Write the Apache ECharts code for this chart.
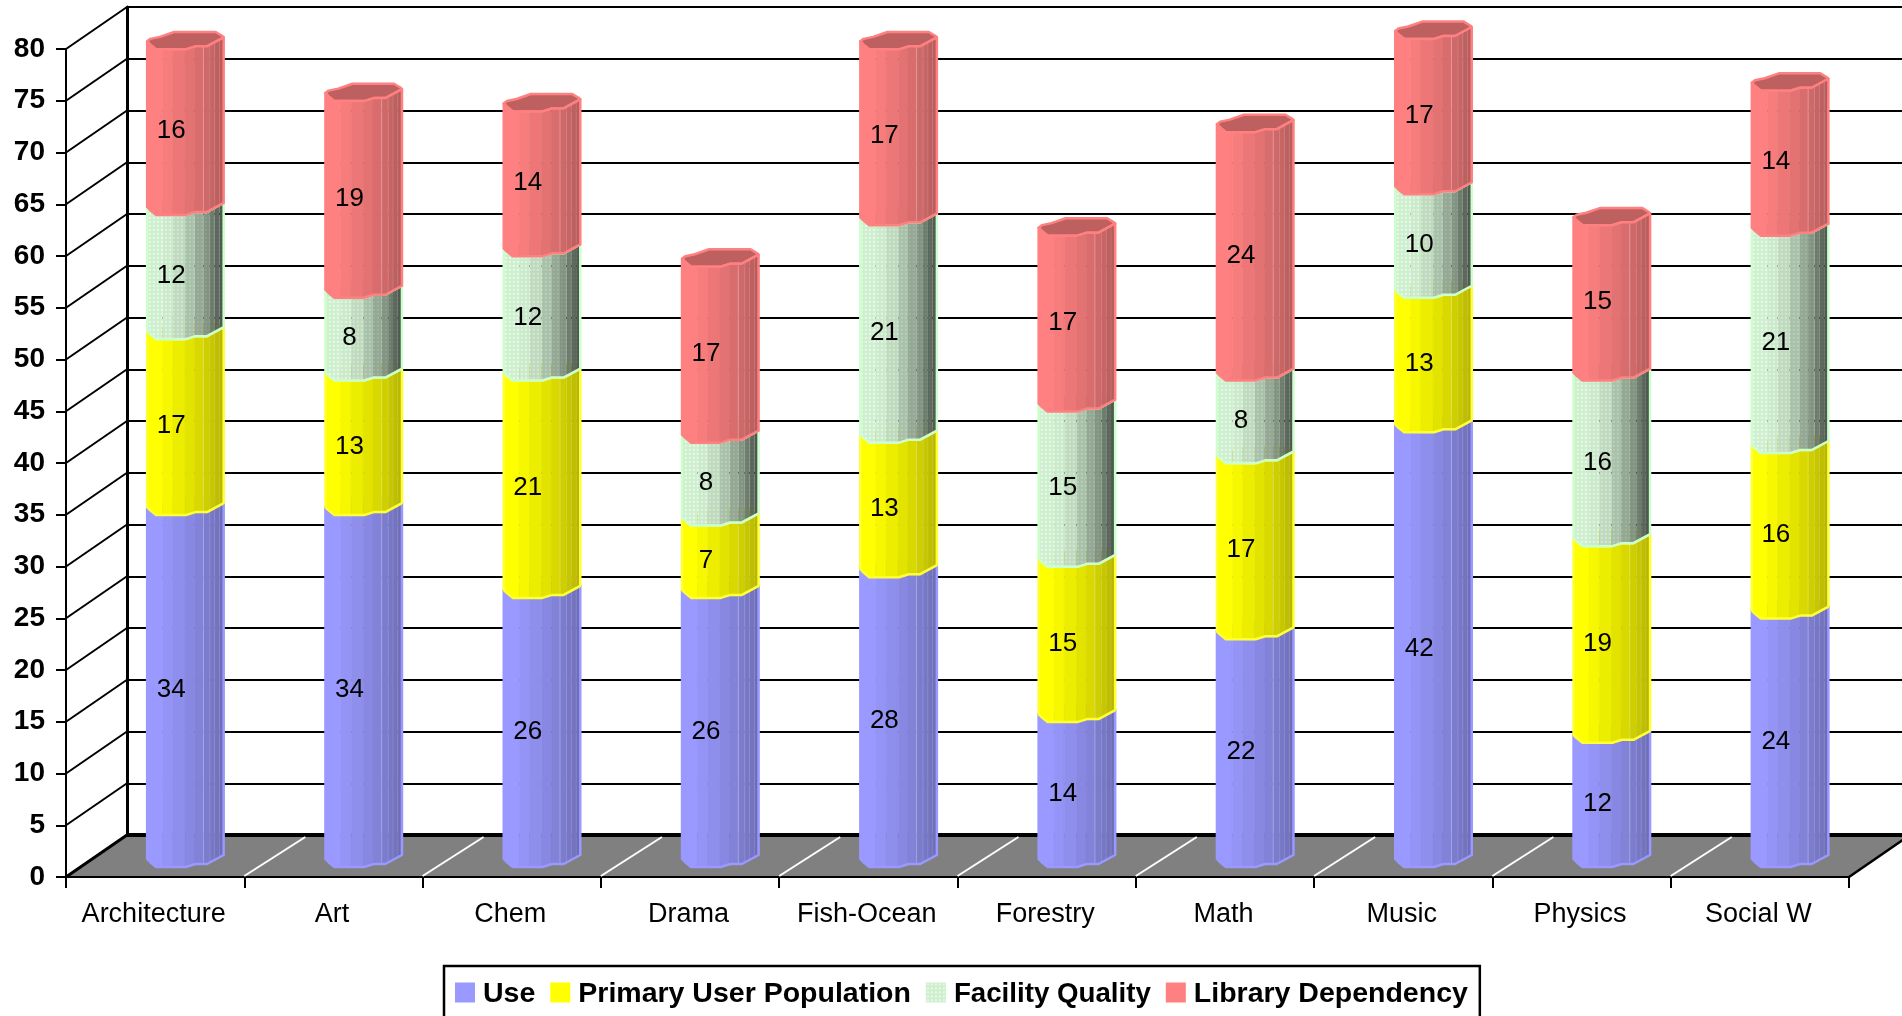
<!DOCTYPE html>
<html>
<head>
<meta charset="utf-8">
<style>html,body{margin:0;padding:0;background:#fff;overflow:hidden}#c{width:1902px;height:1016px}</style>
<script src="https://cdn.jsdelivr.net/npm/echarts@6/dist/echarts.min.js"></script>
</head>
<body>
<div id="c"></div>
<script>
const categories = ['Architecture','Art','Chem','Drama','Fish-Ocean','Forestry','Math','Music','Physics','Social W'];
const useValues = [34,34,26,26,28,14,22,42,12,24];
const primaryValues = [17,13,21,7,13,15,17,13,19,16];
const facilityValues = [12,8,12,8,21,15,8,10,16,21];
const libraryValues = [16,19,14,17,17,17,24,17,15,14];
const seriesNames = ['Use','Primary User Population','Facility Quality','Library Dependency'];
const yTicks = [0,5,10,15,20,25,30,35,40,45,50,55,60,65,70,75,80];
const yMax = 80;

const FONT = '"Liberation Sans", Arial, sans-serif';
const DEPTH_X = 61, DEPTH_Y = -42;
const BAR_SCALE = 0.965, BAR_W = 79.3, BAR_SHIFT = -8, BAR_LIFT = -10;
const FACET_X = [0,16,26.7,39.3,49.3,58.3,65,70,75,79.3];
const FRONT = [[0,-8],[3,-5],[9.3,0],[40,0],[50,-3],[62,-3],[79.3,-12]];
const BACK = [[79.3,-12],[78,-13.3],[71,-17.4],[28,-17.4],[13.3,-12.5],[3.3,-10.5],[0,-8]];
const SOLID_SHADE = [1,.97,.93,.89,.85,.81,.78,.75,.72];
const GRID_SHADE = [.96,.94,.88,.78,.68,.6,.5,.42,.36];
const COLORS = [[153,153,255],[255,255,0],[204,255,204],[255,128,128]];
const STROKES = ['#9999FF','#FFFF33','#CCFFCC','#FF8080'];

function frontY(x){
  for(let i=1;i<FRONT.length;i++){
    if(x<=FRONT[i][0]){
      const a=FRONT[i-1],b=FRONT[i];
      return a[1]+(b[1]-a[1])*(x-a[0])/(b[0]-a[0]);
    }
  }
  return FRONT[FRONT.length-1][1];
}
function rgb(c,m){return 'rgb('+c.map(v=>Math.round(v*m)).join(',')+')';}
function gridPattern(m){
  const s=4,cv=document.createElement('canvas');cv.width=s;cv.height=s;
  const g=cv.getContext('2d');
  g.fillStyle=rgb(COLORS[2],m);g.fillRect(0,0,s,s);
  g.fillStyle=rgb([250,250,250],m);g.fillRect(1,1,2,2);
  g.fillStyle=rgb([228,245,228],m);g.fillRect(1,0,2,1);g.fillRect(0,1,1,2);
  return {image:cv,repeat:'repeat'};
}
const gridFills = GRID_SHADE.map(gridPattern);

function curve(x0,x1,yBase){
  const xs=[x0];
  FRONT.forEach(p=>{if(p[0]>x0&&p[0]<x1)xs.push(p[0]);});
  xs.push(x1);
  return xs.map(x=>[x,yBase+frontY(x)]);
}
function renderSegment(idx){
  return function(params,api){
    const cat=api.value(0), from=Math.min(api.value(1),yMax), to=Math.min(api.value(2),yMax);
    const bottom=api.coord([cat,from]), top=api.coord([cat,to]);
    const xL=bottom[0]+BAR_SHIFT;
    const yb=bottom[1]+BAR_LIFT, yt=top[1]+BAR_LIFT;
    const children=[];
    const abs=pts=>pts.map(p=>[xL+p[0]*BAR_SCALE,p[1]]);
    // top cap
    const cap=abs(curve(0,BAR_W,yt).concat(BACK.map(p=>[p[0],yt+p[1]])));
    children.push({type:'polygon',shape:{points:cap},style:{fill:rgb(COLORS[idx],idx===2?.6:.75),stroke:STROKES[idx],lineWidth:2.5,lineJoin:'round'}});
    // facets
    for(let k=0;k<FACET_X.length-1;k++){
      const x0=FACET_X[k],x1=FACET_X[k+1];
      const upper=curve(x0,x1,yt), lower=curve(x0,x1,yb).reverse();
      const fill=idx===2?gridFills[k]:rgb(COLORS[idx],SOLID_SHADE[k]);
      children.push({type:'polygon',shape:{points:abs(upper.concat(lower))},
        style:{fill:fill,stroke:idx===2?null:rgb(COLORS[idx],SOLID_SHADE[k]),lineWidth:idx===2?0:.6}});
    }
    // faint facet edges
    if(idx!==2){
      [58.3,65,70,75].forEach((x,j)=>{
        const px=xL+x*BAR_SCALE;
        children.push({type:'line',shape:{x1:px,y1:yb+frontY(x),x2:px,y2:yt+frontY(x)},
          style:{stroke:'#fff',opacity:j===0?.3:.14,lineWidth:1}});
      });
    }
    // outline
    const outline=abs(curve(0,BAR_W,yt).concat(curve(0,BAR_W,yb).reverse()));
    children.push({type:'polygon',shape:{points:outline},style:{fill:'none',stroke:STROKES[idx],lineWidth:2.5,lineJoin:'round'}});
    // label
    children.push({type:'text',style:{text:String(api.value(3)),x:xL+24,y:(yb+yt)/2-1,
      fill:'#000',font:'26px '+FONT,align:'center',verticalAlign:'middle'},z2:5});
    return {type:'group',children};
  };
}
function stacked(i){
  const all=[useValues,primaryValues,facilityValues,libraryValues];
  return categories.map((c,k)=>{
    let s=0;for(let j=0;j<i;j++)s+=all[j][k];
    return [k,s,s+all[i][k],all[i][k]];
  });
}
const barSeries=seriesNames.map((name,i)=>({
  name,type:'custom',xAxisIndex:0,yAxisIndex:0,coordinateSystem:'cartesian2d',
  data:stacked(i),renderItem:renderSegment(i),clip:false,silent:true,z:5,
  itemStyle:{color:rgb(COLORS[i],1)},
  encode:{x:0,y:[1,2]}
}));
const wallSeries={type:'custom',name:'walls',xAxisIndex:0,yAxisIndex:0,silent:true,clip:false,z:1,
  data:yTicks.map(v=>[0,v]),encode:{x:0,y:1},
  renderItem(params,api){
    const cs=params.coordSys;
    const y=api.coord([0,api.value(1)])[1];
    return {type:'line',shape:{x1:cs.x,y1:y,x2:cs.x+DEPTH_X,y2:y+DEPTH_Y},style:{stroke:'#000',lineWidth:2}};
  }};
const floorSeries={type:'custom',name:'floor',xAxisIndex:0,yAxisIndex:0,silent:true,clip:false,z:2,
  data:categories.map((c,i)=>[i,0]),encode:{x:0,y:1},
  renderItem(params,api){
    const cs=params.coordSys, i=api.value(0);
    const y0=api.coord([i,0])[1], band=api.size([1,0])[0];
    const xl=api.coord([i,0])[0]-band/2;
    const ch=[];
    if(i===0){
      const X0=cs.x,X1=cs.x+cs.width;
      ch.push({type:'polygon',shape:{points:[[X0,y0],[X0+DEPTH_X,y0+DEPTH_Y],[X1+DEPTH_X,y0+DEPTH_Y],[X1,y0]]},style:{fill:'#808080'}});
      ch.push({type:'line',shape:{x1:X0,y1:y0,x2:X0+DEPTH_X,y2:y0+DEPTH_Y},style:{stroke:'#000',lineWidth:3}});
      ch.push({type:'line',shape:{x1:X1,y1:y0,x2:X1+DEPTH_X,y2:y0+DEPTH_Y},style:{stroke:'#000',lineWidth:2.5}});
      ch.push({type:'line',shape:{x1:X0+DEPTH_X,y1:y0+DEPTH_Y,x2:X1+DEPTH_X,y2:y0+DEPTH_Y},style:{stroke:'#000',lineWidth:4}});
      ch.push({type:'line',shape:{x1:X0,y1:y0,x2:X1,y2:y0},style:{stroke:'#000',lineWidth:2}});
    } else {
      ch.push({type:'line',shape:{x1:xl,y1:y0-1,x2:xl+DEPTH_X,y2:y0+DEPTH_Y+2},style:{stroke:'#fff',lineWidth:2}});
    }
    return {type:'group',children:ch};
  }};

const chart=echarts.init(document.getElementById('c'),null,{renderer:'canvas',width:1902,height:1016});
chart.setOption({
  animation:false,
  backgroundColor:'#fff',
  grid:[
    {left:66,top:49,width:1783,height:828},
    {left:127,top:7,width:1783,height:828}
  ],
  xAxis:[
    {type:'category',gridIndex:0,data:categories,
     axisLine:{show:true,lineStyle:{color:'#000',width:2}},
     axisTick:{show:true,length:11,lineStyle:{color:'#000',width:2}},
     axisLabel:{show:true,interval:0,margin:24,color:'#000',fontSize:27,fontFamily:FONT,padding:[0,3,0,0]}},
    {type:'category',gridIndex:1,data:categories,axisLine:{show:false},axisTick:{show:false},axisLabel:{show:false}}
  ],
  yAxis:[
    {type:'value',gridIndex:0,min:0,max:yMax,interval:5,
     axisLine:{show:true,lineStyle:{color:'#000',width:2}},
     axisTick:{show:true,length:10,lineStyle:{color:'#000',width:2}},
     axisLabel:{show:true,margin:21,color:'#000',fontSize:28,fontWeight:'bold',fontFamily:FONT},
     splitLine:{show:false}},
    {type:'value',gridIndex:1,min:0,max:yMax,interval:5,
     axisLine:{show:true,lineStyle:{color:'#000',width:3}},
     axisTick:{show:false},axisLabel:{show:false},
     splitLine:{show:true,lineStyle:{color:'#000',width:2}}}
  ],
  legend:{
    left:444,top:966,selectedMode:false,orient:'horizontal',
    borderColor:'#000',borderWidth:2.5,padding:[14,12,30,11],
    itemWidth:20,itemHeight:20,itemGap:15,
    formatter:name=>name===seriesNames[2]?'{f|'+name+'}':name,
    textStyle:{color:'#000',fontSize:28.5,fontWeight:'bold',fontFamily:FONT,padding:[4,0,0,3],
      rich:{f:{fontSize:27.7,fontWeight:'bold',fontFamily:FONT,color:'#000'}}},
    data:seriesNames.map((name,i)=>({name,icon:'rect',itemStyle:{color:i===2?gridFills[0]:rgb(COLORS[i],1)}}))
  },
  series:[wallSeries,floorSeries].concat(barSeries)
});
</script>
</body>
</html>
